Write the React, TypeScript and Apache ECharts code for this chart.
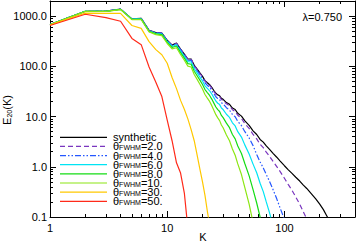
import React, { useEffect, useRef } from "react";
import * as echarts from "echarts";

const K = [
  1, 2, 3, 4, 5, 6, 7, 8, 9, 10, 11, 12, 13, 14, 15, 16, 17, 18, 19, 20,
  21, 22, 23, 24, 25, 26, 27, 28, 29, 30, 32, 34, 36, 38, 40, 43, 46, 50, 54, 58,
  62, 66, 70, 75, 80, 86, 92, 100, 108, 116, 125, 135, 145, 155, 170, 185, 200, 215, 230, 245,
];

const synthetic = [
  680, 1250, 1260, 1380, 880, 900, 520, 470, 460, 330, 265, 290, 220, 175, 140, 140, 105, 88, 74, 63,
  52, 47, 43, 38, 33, 29, 27, 26, 23, 22, 19, 17.5, 14.8, 13.8, 11.6, 10.2, 8.2, 6.7, 5.2, 4.4,
  3.5, 3.1, 2.6, 2.2, 1.85, 1.55, 1.3, 1.05, 0.87, 0.74, 0.62, 0.52, 0.43, 0.37, 0.29, 0.23, 0.18, 0.14, 0.105, 0.08,
];
const fwhm2 = [
  680, 1250, 1260, 1378, 878, 898, 518, 468, 458, 328, 263, 288, 218, 173, 138, 138, 103, 86, 72, 61.5,
  50.7, 45.7, 41.7, 36.7, 31.8, 27.9, 25.9, 24.9, 21.9, 20.9, 17.9, 16.4, 13.7, 12.7, 10.6, 9.2, 7.2, 5.8, 4.4, 3.6,
  2.8, 2.4, 1.96, 1.59, 1.28, 1.01, 0.8, 0.59, 0.44, 0.34, 0.25, 0.18, 0.127, 0.092, 0.054,
];
const fwhm4 = [
  680, 1250, 1255, 1375, 875, 895, 515, 465, 455, 322, 258, 280, 212, 167, 133, 132, 98, 82, 68, 57,
  47, 42, 38, 33, 28.5, 24.8, 22.8, 21.7, 18.9, 17.8, 15.0, 13.4, 11.0, 9.9, 8.0, 6.6, 5.0, 3.75, 2.64, 1.75,
  1.25, 0.95, 0.7, 0.5, 0.35, 0.23, 0.15, 0.09, 0.05,
];
const fwhm6 = [
  680, 1250, 1250, 1370, 870, 885, 505, 455, 440, 313, 249, 269, 201, 158, 124, 122, 90, 74, 61, 51,
  41, 36.5, 32.6, 28.1, 23.8, 20.4, 18.4, 17.3, 14.8, 13.8, 11.1, 9.6, 7.5, 6.5, 5.0, 3.9, 2.7, 1.8, 1.13, 0.76,
  0.47, 0.32, 0.2, 0.117, 0.065,
];
const fwhm8 = [
  680, 1250, 1245, 1360, 860, 870, 497, 443, 427, 301, 237, 254, 188, 146, 113.5, 110, 80, 65, 53, 43.5,
  34.5, 30, 26.3, 22.3, 18.5, 15.5, 13.7, 12.6, 10.5, 9.5, 7.4, 6.0, 4.4, 3.6, 2.6, 1.84, 1.15, 0.66, 0.35, 0.19,
  0.1, 0.055,
];
const fwhm10 = [
  675, 1245, 1240, 1350, 850, 855, 485, 428, 409, 285, 222, 235, 172, 132, 101, 97, 69, 55, 44, 35.3,
  27.5, 23.3, 20, 16.5, 13.3, 10.9, 9.4, 8.3, 6.8, 6.0, 4.3, 3.3, 2.26, 1.7, 1.14, 0.7, 0.38, 0.18, 0.077,
];
const fwhm30 = [
  670, 1150, 1130, 1130, 650, 570, 310, 215, 170, 115, 60, 36, 21, 14, 9, 5.5, 3.3, 1.7, 0.9, 0.5,
  0.27, 0.13, 0.07,
];
const fwhm50 = [650, 1090, 930, 790, 360, 270, 97, 48, 25, 8.5, 3.3, 1.2, 0.75, 0.3, 0.06];

const seriesNames = [
  "synthetic",
  "θFWHM=2.0",
  "θFWHM=4.0",
  "θFWHM=6.0",
  "θFWHM=8.0",
  "θFWHM=10.",
  "θFWHM=30.",
  "θFWHM=50.",
];
const seriesValues = [synthetic, fwhm2, fwhm4, fwhm6, fwhm8, fwhm10, fwhm30, fwhm50];
const seriesColors = ["#000000", "#7a36bf", "#2457ff", "#00e4f4", "#14dc14", "#8ce614", "#ffc800", "#ff2a1a"];
const seriesDash: (string | number[])[] = ["solid", [5, 3], [6, 2, 1.5, 2, 1.5, 2], "solid", "solid", "solid", "solid", "solid"];

const xMajor = [1, 10, 100];
const xMinor = [2, 3, 4, 5, 6, 7, 8, 9, 20, 30, 40, 50, 60, 70, 80, 90, 200, 300];
const yMajor = [0.1, 1, 10, 100, 1000];
const yMinor = [
  0.2, 0.3, 0.4, 0.5, 0.6, 0.7, 0.8, 0.9, 2, 3, 4, 5, 6, 7, 8, 9,
  20, 30, 40, 50, 60, 70, 80, 90, 200, 300, 400, 500, 600, 700, 800, 900,
];
const xRange = [1, 400];
const yRange = [0.1, 2000];
const xTitle = "K";
const lambdaText = "λ=0.750";

const FONT = "Liberation Sans, Arial, Helvetica, sans-serif";

function axis(dim: "x" | "y", position: string, ticks: number[], len: number, labels: boolean, line: boolean) {
  const range = dim === "x" ? xRange : yRange;
  return {
    type: "log",
    logBase: 10,
    position,
    min: range[0],
    max: range[1],
    axisLine: { show: line, onZero: false, lineStyle: { color: "#000", width: 1 } },
    axisTick: { show: true, inside: true, length: len, customValues: ticks, lineStyle: { color: "#000", width: 1 } },
    axisLabel: labels
      ? {
          show: true,
          customValues: ticks,
          color: "#000",
          fontFamily: FONT,
          fontSize: 11,
          margin: dim === "x" ? 5 : 3,
          formatter: (v: number) => (dim === "x" ? String(v) : v.toFixed(1)),
        }
      : { show: false },
    splitLine: { show: false },
    minorTick: { show: false },
  };
}

export default function App() {
  const ref = useRef<HTMLDivElement>(null);
  useEffect(() => {
    if (!ref.current) return;
    const chart = echarts.init(ref.current, undefined, { renderer: "svg" });
    const xAxes: any[] = [
      axis("x", "bottom", xMajor, 6, true, true),
      axis("x", "bottom", xMinor, 3, false, false),
      axis("x", "top", xMajor, 6, false, true),
      axis("x", "top", xMinor, 3, false, false),
    ];
    const yAxes: any[] = [
      axis("y", "left", yMajor, 6, true, true),
      axis("y", "left", yMinor, 3, false, false),
      axis("y", "right", yMajor, 6, false, true),
      axis("y", "right", yMinor, 3, false, false),
    ];
    const series = seriesNames.map((name, si) => ({
      name,
      type: "line",
      xAxisIndex: 0,
      yAxisIndex: 0,
      symbol: "none",
      clip: true,
      data: seriesValues[si].map((v, i) => [K[i], v]),
      lineStyle: { color: seriesColors[si], width: 1.2, type: seriesDash[si] },
      itemStyle: { color: seriesColors[si] },
      z: 2 + si,
    }));

    // legend drawn as graphic elements (layout only)
    const legendTop = 137.3;
    const legendStep = 9.14;
    const legendGraphics: any[] = [];
    seriesNames.forEach((name, i) => {
      const y = legendTop + legendStep * i;
      const dash = seriesDash[i];
      legendGraphics.push({
        type: "line",
        shape: { x1: 60, y1: y, x2: 107, y2: y },
        style: {
          stroke: seriesColors[i],
          lineWidth: 1.2,
          lineDash: Array.isArray(dash) ? dash : null,
        },
        z: 100,
      });
      legendGraphics.push({
        type: "text",
        x: 113,
        y,
        style: {
          text: name === "synthetic" ? "{t|synthetic}" : "{t|θ}{s|FWHM}{t|" + name.slice(5) + "}",
          verticalAlign: "middle",
          align: "left",
          fill: "#000",
          rich: {
            t: { fontFamily: FONT, fontSize: 11, lineHeight: 9, fill: "#000" },
            s: { fontFamily: FONT, fontSize: 7, lineHeight: 5, verticalAlign: "bottom", fill: "#000" },
          },
        },
        z: 100,
      });
    });

    chart.setOption({
      animation: false,
      backgroundColor: "#ffffff",
      grid: { left: 50, right: 1, top: 1, bottom: 25, containLabel: false, outerBoundsMode: "none" },
      xAxis: xAxes,
      yAxis: yAxes,
      graphic: [
        {
          type: "text",
          right: 14,
          top: 11,
          style: { text: lambdaText, fill: "#000", font: "11px " + FONT },
        },
        {
          type: "text",
          x: 203,
          y: 242,
          style: { text: xTitle, fill: "#000", font: "11px " + FONT, align: "center", verticalAlign: "bottom" },
        },
        {
          type: "text",
          x: 7,
          y: 110,
          rotation: Math.PI / 2,
          style: {
            text: "{a|E}{b|20}{a|(K)}",
            align: "center",
            verticalAlign: "middle",
            fill: "#000",
            rich: {
              a: { fontFamily: FONT, fontSize: 11, lineHeight: 12, fill: "#000" },
              b: { fontFamily: FONT, fontSize: 7, lineHeight: 6, verticalAlign: "bottom", fill: "#000" },
            },
          },
        },
        ...legendGraphics,
      ],
      series,
    });
    return () => chart.dispose();
  }, []);
  return <div ref={ref} style={{ position: "fixed", left: 0, top: 0, width: 356, height: 242, background: "#fff" }} />;
}
